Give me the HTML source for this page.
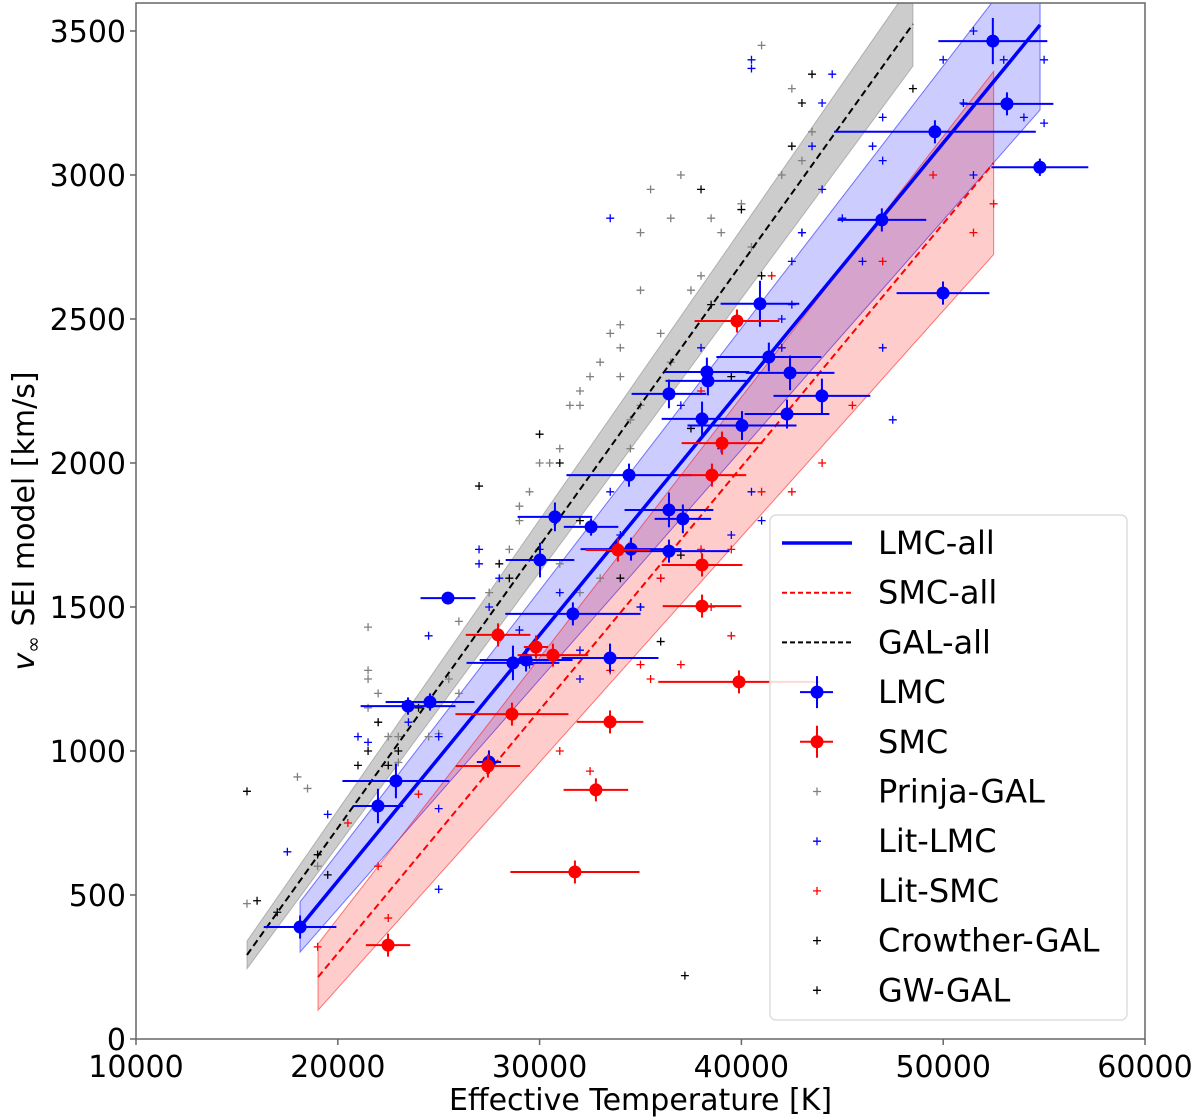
<!DOCTYPE html>
<html><head><meta charset="utf-8"><style>
html,body{margin:0;padding:0;background:#fff;}
svg{display:block;font-family:"DejaVu Sans","Liberation Sans",sans-serif;}
</style></head><body>
<svg id="chart" width="1200" height="1120" viewBox="0 0 1200 1120" xmlns="http://www.w3.org/2000/svg"></svg>
<script>
const xTicks=[10000,20000,30000,40000,50000,60000];
const yTicks=[0,500,1000,1500,2000,2500,3000,3500];
// fits: [Tstart, Tend, vStart, vEnd, halfStart, halfEnd]
const lmcFit=[18130,54800,389,3521,87,295];
const smcFit=[19020,52500,215,3042,115,318];
const galFit=[15500,48500,292,3524,48,146];
// LMC with errorbars
const lmcT=[18130,21990,22880,23480,24570,25460,27490,28680,29330,30020,30760,31650,32550,33490,34430,34530,36410,36410,36410,37100,38050,38290,38340,40030,40920,41360,42260,42410,43990,46960,49590,49990,52460,53160,54790];
const lmcV=[389,809,896,1156,1170,1531,962,1306,1316,1663,1813,1476,1778,1323,1958,1701,1837,1694,2240,1806,2153,2316,2285,2130,2553,2368,2170,2313,2233,2844,3150,2590,3465,3247,3027];
const lmcXe=[1800,1250,2650,2350,2200,1360,600,2300,2300,1700,1850,3350,1350,2400,3100,2500,2200,3000,1850,1400,2000,2100,2100,2700,1950,2600,2100,2200,2400,2200,5000,2300,2700,2300,2400];
const lmcYe=[40,60,60,30,30,20,40,60,40,60,50,40,30,50,40,40,60,40,50,50,60,50,50,50,80,50,50,60,60,40,40,40,80,40,30];
const smcT=[39780,39040,38540,33880,38050,38050,29820,27940,30660,28630,33490,27440,32790,31750,39880,22490];
const smcV=[2493,2069,1958,1698,1646,1503,1361,1403,1333,1128,1101,948,865,580,1240,326];
const smcXe=[2100,2000,1700,1600,2000,1950,600,1600,1750,2800,1650,1600,1600,3200,4000,1100];
const prinjaT=[15500,18000,18500,19000,21500,21500,21500,21500,22000,22500,23000,23000,25000,25500,26000,27500,28500,29000,29000,29500,30000,30500,31000,31500,32000,32000,32500,33000,33500,34000,34000,34000,34500,34500,35000,35000,35000,35500,36000,36500,36500,37000,37500,38000,38500,39000,40000,40500,41000,42000,42500,43000,43500,31000,32000,33000,24500,26000,22000];
const prinjaV=[470,910,870,600,1430,1280,1250,1150,1100,1050,960,1050,1060,1250,1450,1550,1700,1850,1800,1900,2000,2000,2050,2200,2250,2200,2300,2350,2450,2480,2400,2300,2150,2050,2200,2600,2800,2950,2450,2350,2850,3000,2600,2650,2850,2800,2900,2750,3450,3000,3300,3050,3150,1650,1550,1600,1050,1200,1200];
const galT=[15500,16000,17000,19000,19500,21000,21500,22000,22500,23000,24000,27000,28000,28500,30000,31000,32000,34000,35000,36000,37000,37500,38500,40000,41000,42500,43000,43000,43500,48500,37200,39500,38000];
const galV=[860,480,440,640,570,950,1000,1100,950,1000,1150,1920,1650,1600,2100,2000,1800,1600,1500,1380,1680,2120,2550,2880,2650,3100,2800,3250,3350,3300,220,2300,2950];
const litLmcT=[17500,19500,21000,21500,23500,24500,25000,25000,25000,27000,27000,27500,28000,29000,29500,30000,31000,32000,32000,33500,33500,34000,35000,36000,37000,38000,39000,39500,40500,41000,42000,42000,42500,42500,43000,43500,44000,44000,44500,45000,46000,46500,47000,47000,47000,47500,50000,51000,51500,51500,53000,54000,55000,55000,40500,40500];
const litLmcV=[650,780,1050,1030,1100,1400,1050,800,520,1700,1650,1500,1600,1420,1300,1700,1550,1350,1250,2850,1900,1750,1500,1600,2200,2400,2050,1750,1900,1800,2500,2400,2550,2700,2800,3100,2950,3250,3350,2850,2700,3100,3050,3200,2400,2150,3400,3250,3000,3500,3400,3200,3400,3180,3400,3370];
const litSmcT=[19000,20500,22000,22500,24000,31000,32500,33500,35000,35500,36000,37000,38000,38500,39500,39500,41000,42500,44000,45500,47000,49500,51500,52500,41500,38000];
const litSmcV=[320,750,600,420,850,1000,930,1280,1300,1250,1600,1300,1700,1500,1400,1700,1900,1900,2000,2200,2700,3000,2800,2900,2650,2250];
const legendLabels=["LMC-all","SMC-all","GAL-all","LMC","SMC","Prinja-GAL","Lit-LMC","Lit-SMC","Crowther-GAL","GW-GAL"];

const svg=document.getElementById('chart');
const NS='http://www.w3.org/2000/svg';
const L=136,R=1145,T0=3,B=1039;
function xs(t){return L+(t-10000)/50000*(R-L);}
function ys(v){return B-v*0.288;}
function mk(tag,attrs,parent){const e=document.createElementNS(NS,tag);for(const k in attrs)e.setAttribute(k,attrs[k]);(parent||svg).appendChild(e);return e;}

const defs=mk('defs',{});
const cp=mk('clipPath',{id:'clip'},defs);
mk('rect',{x:L,y:T0,width:R-L,height:B-T0},cp);
const plot=mk('g',{'clip-path':'url(#clip)'});



function band(f,color,op,name){
  const [a,b,va,vb,ha,hb]=f;
  const p=mk('polygon',{points:`${xs(a)},${ys(va+ha)} ${xs(b)},${ys(vb+hb)} ${xs(b)},${ys(vb-hb)} ${xs(a)},${ys(va-ha)}`,fill:color,'fill-opacity':op,stroke:color,'stroke-opacity':0.5},plot);
  
  
}
band(galFit,'#808080',0.4,'gal-band');
band(lmcFit,'#0000ff',0.2,'lmc-band');
band(smcFit,'#ff0000',0.2,'smc-band');

function cross(t,v,color,name){
  const x=xs(t),y=ys(v);
  const g=mk('path',{d:`M${x-4},${y}H${x+4}M${x},${y-4}V${y+4}`,stroke:color,'stroke-width':1.3},plot);
  
  
}
prinjaT.forEach((t,i)=>cross(t,prinjaV[i],'#808080','prinja-gal-point'));
galT.forEach((t,i)=>cross(t,galV[i],'#000','crowther-gal-point'));
litLmcT.forEach((t,i)=>cross(t,litLmcV[i],'#0000ff','lit-lmc-point'));
litSmcT.forEach((t,i)=>cross(t,litSmcV[i],'#ff0000','lit-smc-point'));

function fitLine(f,color,w,dash,name){
  const l=mk('line',{x1:xs(f[0]),y1:ys(f[2]),x2:xs(f[1]),y2:ys(f[3]),stroke:color,'stroke-width':w,'stroke-dasharray':dash},plot);
  
  
}
fitLine(galFit,'#000',2,'7,4','gal-all-line');
fitLine(smcFit,'#ff0000',2,'7,4','smc-all-line');
fitLine(lmcFit,'#0000ff',3.5,'','lmc-all-line');

function errPt(t,v,xe,ye,color,name){
  const x=xs(t),y=ys(v);
  const g=mk('g',{},plot);
  
  
  mk('path',{d:`M${xs(t-xe)},${y}H${xs(t+xe)}M${x},${ys(v-ye)}V${ys(v+ye)}`,stroke:color,'stroke-width':2},g);
  mk('circle',{cx:x,cy:y,r:6.5,fill:color},g);
}
lmcT.forEach((t,i)=>errPt(t,lmcV[i],lmcXe[i],lmcYe[i],'#0000ff','lmc-point'));
smcT.forEach((t,i)=>errPt(t,smcV[i],smcXe[i],40,'#ff0000','smc-point'));

// frame
const fr=mk('rect',{x:L,y:T0,width:R-L,height:B-T0,fill:'none',stroke:'#666','stroke-width':1.5});


xTicks.forEach(t=>{
  mk('line',{x1:xs(t),x2:xs(t),y1:B,y2:B+6,stroke:'#666','stroke-width':1.5});
  const tx=mk('text',{x:xs(t),y:B+38,'text-anchor':'middle','font-size':30,fill:'#000'});
  tx.textContent=t;
  
  
});
yTicks.forEach(v=>{
  mk('line',{x1:L-6,x2:L,y1:ys(v),y2:ys(v),stroke:'#666','stroke-width':1.5});
  const tx=mk('text',{x:L-10,y:ys(v)+11,'text-anchor':'end','font-size':30,fill:'#000'});
  tx.textContent=v;
  
  
});
const xl=mk('text',{x:(L+R)/2,y:1110,'text-anchor':'middle','font-size':30,fill:'#000'});
xl.textContent='Effective Temperature [K]';


const yl=mk('text',{x:0,y:0,'text-anchor':'middle','font-size':30,fill:'#000',transform:`translate(34,${(T0+B)/2}) rotate(-90)`});
yl.innerHTML='<tspan font-style="italic">v</tspan><tspan font-size="20" dy="6">∞</tspan><tspan dy="-6"> SEI model [km/s]</tspan>';



// legend
const lg=mk('g',{});


mk('rect',{x:770,y:515,width:357,height:505,rx:6,fill:'#fff','fill-opacity':0.85,stroke:'#ddd','stroke-width':1.5},lg);
legendLabels.forEach((lab,i)=>{
  const y=543+i*49.7;
  const e=mk('g',{},lg);
  
  
  if(i===0) mk('line',{x1:782,x2:852,y1:y,y2:y,stroke:'#0000ff','stroke-width':3.5},e);
  else if(i===1) mk('line',{x1:782,x2:852,y1:y,y2:y,stroke:'#ff0000','stroke-width':2,'stroke-dasharray':'5,3'},e);
  else if(i===2) mk('line',{x1:782,x2:852,y1:y,y2:y,stroke:'#000','stroke-width':2,'stroke-dasharray':'5,3'},e);
  else if(i<5){const c=i===3?'#0000ff':'#ff0000';
    mk('path',{d:`M800,${y}H833M817,${y-16}V${y+16}`,stroke:c,'stroke-width':2},e);
    mk('circle',{cx:817,cy:y,r:6.5,fill:c},e);}
  else {const c=['#808080','#0000ff','#ff0000','#000','#000'][i-5];
    mk('path',{d:`M813,${y}H821M817,${y-4}V${y+4}`,stroke:c,'stroke-width':1.3},e);}
  const t=mk('text',{x:878,y:y+11,'font-size':32,fill:'#000'},e);
  t.textContent=lab;
});
</script>
</body></html>
